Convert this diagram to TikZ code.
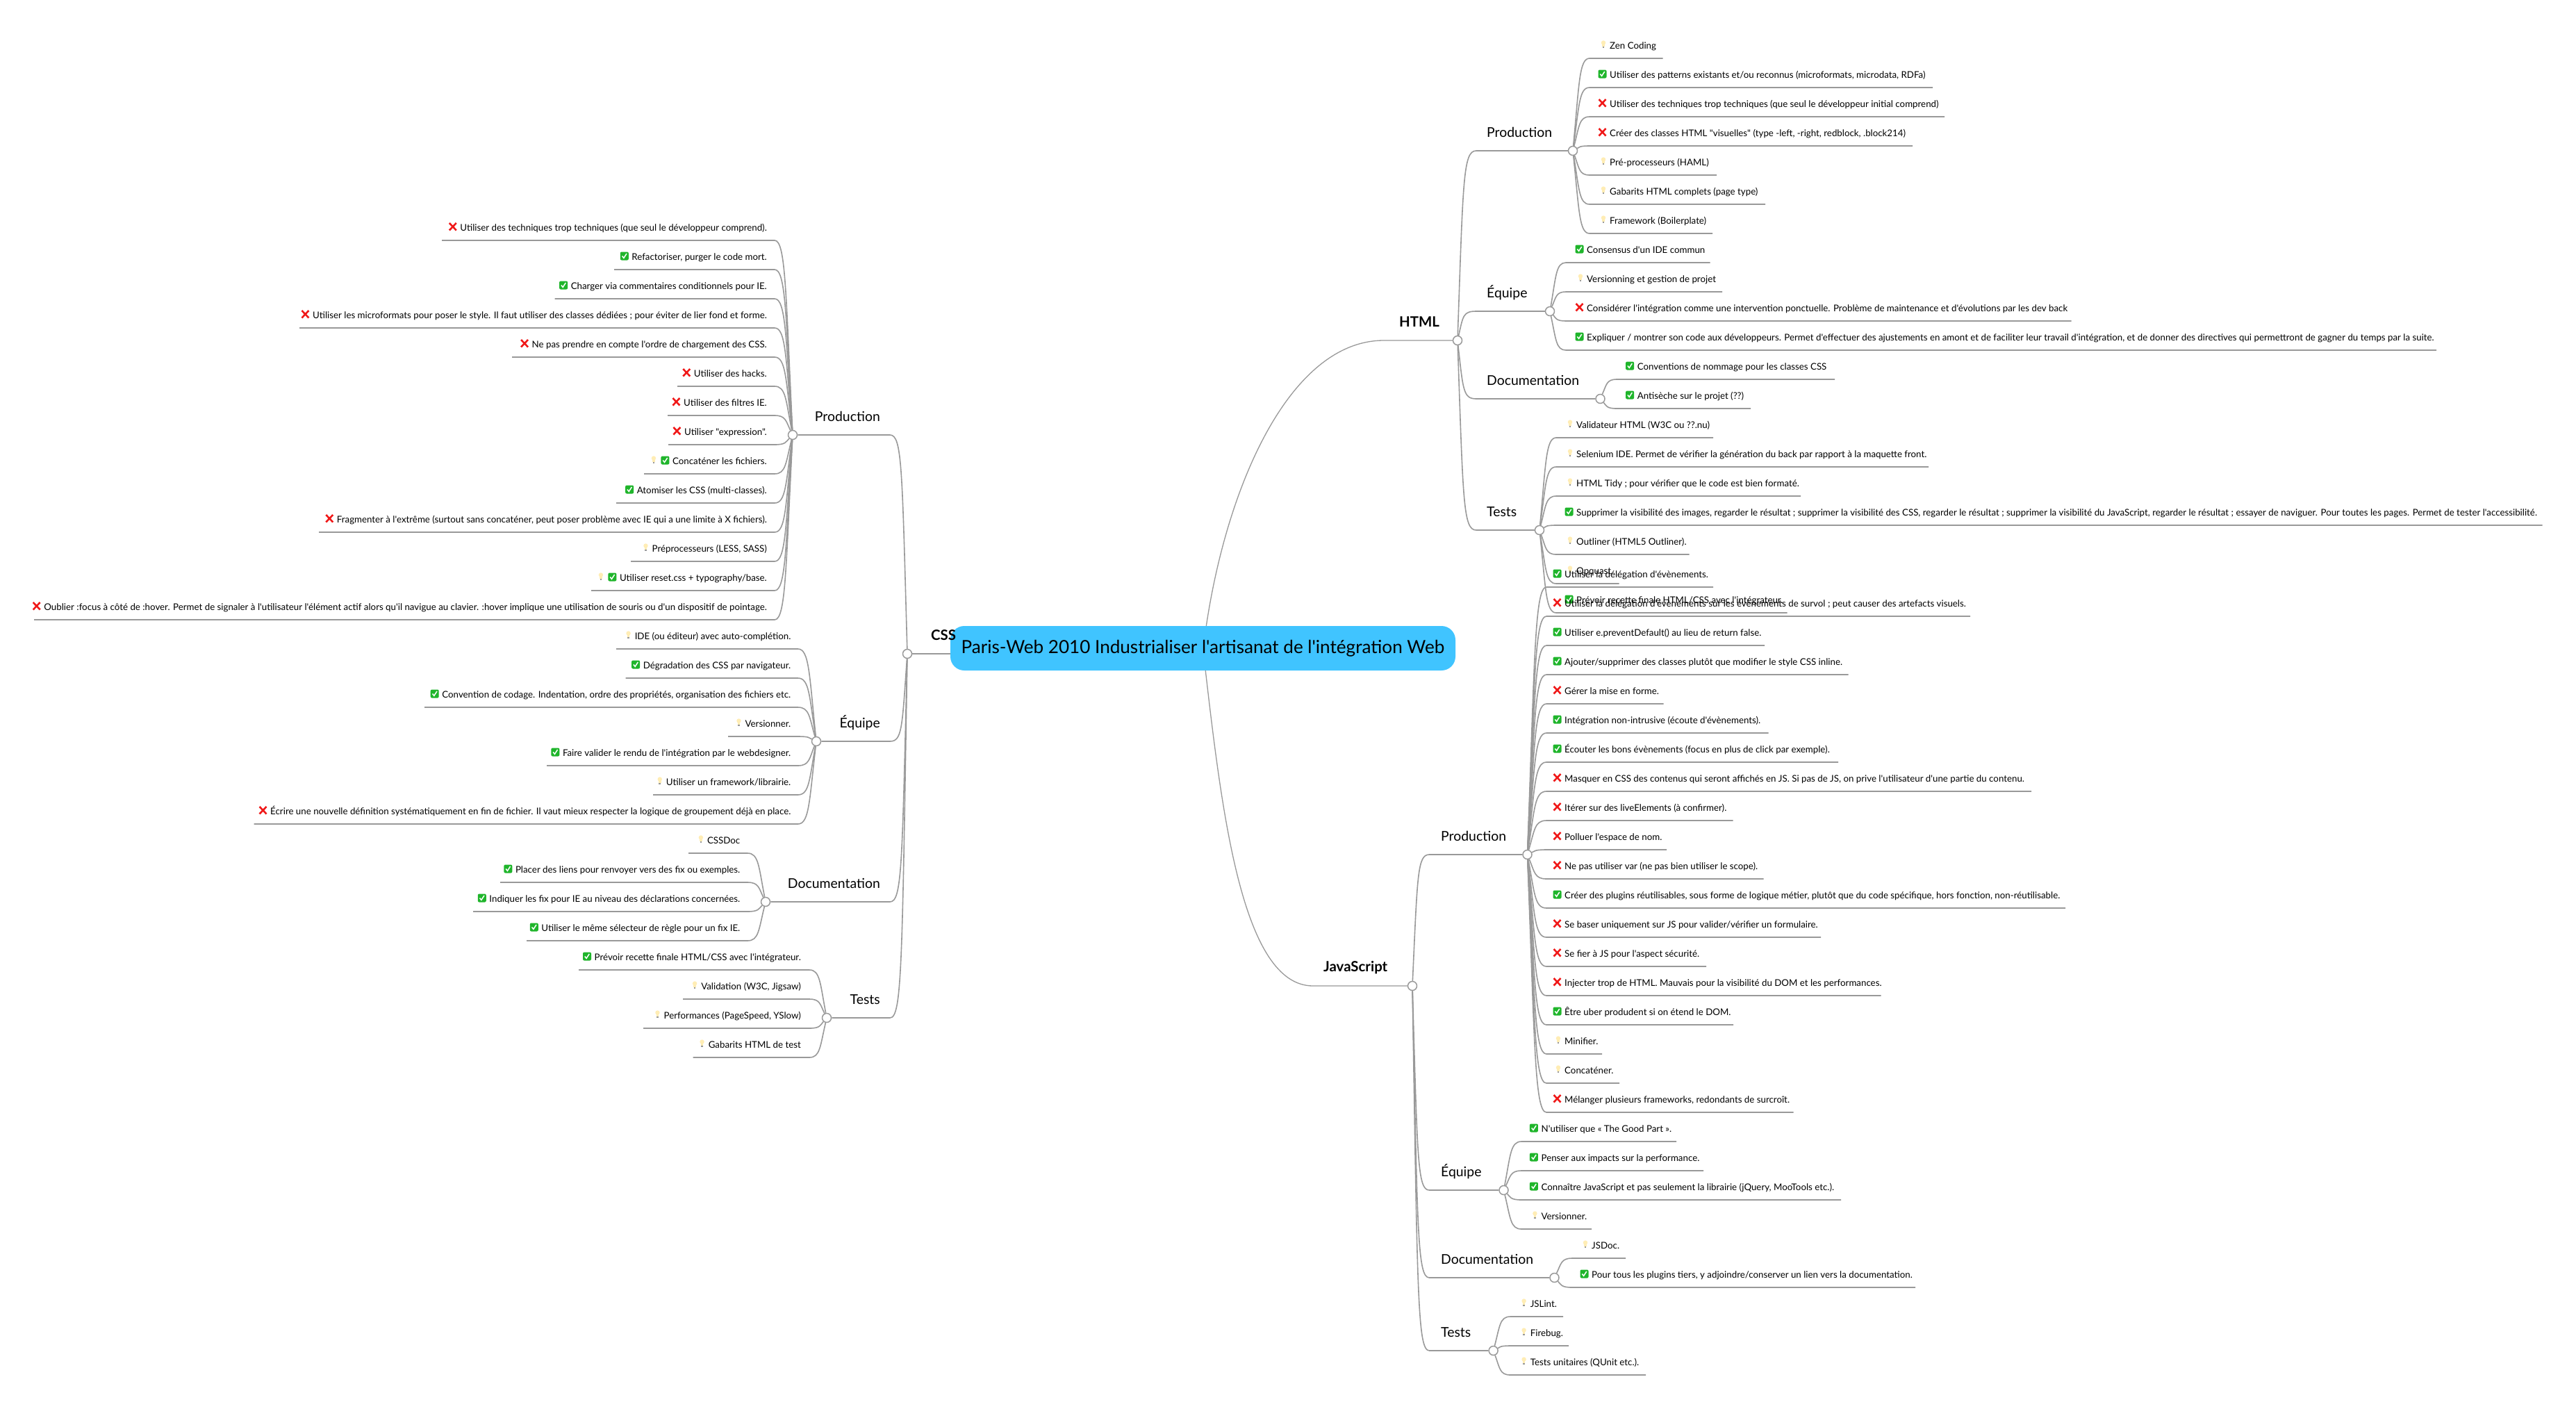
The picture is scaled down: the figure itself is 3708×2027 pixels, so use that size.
\documentclass[tikz,border=0pt]{standalone}
\usepackage{fontspec}
\usetikzlibrary{calc}
\newfontfamily\uif{Lato}
\definecolor{lnkc}{HTML}{999999}
\definecolor{rootc}{HTML}{40C4FF}
\definecolor{chkc}{HTML}{1FB52B}
\definecolor{redc}{HTML}{F01818}
\definecolor{blbc}{HTML}{FFEDB5}
\newcount\kidn
\tikzset{
  x=1pt,y=-1pt,
  lnk/.style={draw=lnkc,line width=1.6pt},
  biglnk/.style={draw=lnkc,line width=1.3pt},
  junc/.style={circle,draw=lnkc,fill=white,line width=1.5pt,minimum size=13pt,inner sep=0pt},
  kidt/.style={inner sep=0pt,font=\uif\fontsize{13.3}{16}\selectfont,text=black},
  brancht/.style={inner sep=0pt,anchor=base west,font=\uif\fontsize{19.4}{24}\selectfont,text=black},
  topt/.style={inner sep=0pt,anchor=base west,font=\uif\bfseries\fontsize{20.4}{24}\selectfont,text=black},
  rootn/.style={fill=rootc,rounded corners=20pt,minimum width=727pt,minimum height=64pt,inner sep=0pt,font=\uif\fontsize{26.1}{32}\selectfont,text=black},
  pics/cbox/.style={code={
    \fill[chkc,rounded corners=2pt] (#1-6,-11.5) rectangle (#1+6,0.5);
    \draw[white,line width=1.5pt] (#1-3.2,-5.5) -- (#1-0.9,-2.6) -- (#1+3.2,-9);
  }},
  pics/ccc/.style={code={\pic {cbox=-10.5};}},
  pics/xxx/.style={code={
    \draw[redc,line width=2.6pt] (-15.5,-11) -- (-5.5,-0.5) (-5.5,-11) -- (-15.5,-0.5);
  }},
  pics/lamp/.style={code={
    \fill[blbc] (#1,-8.5) circle (3.2pt);
    \fill[blbc] (#1-1.8,-7) rectangle (#1+1.8,-3.5);
    \fill[lnkc] (#1-1.3,-3.2) rectangle (#1+1.3,-1.2);
  }},
  pics/bbb/.style={code={\pic {lamp=-9};}},
  pics/bcc/.style={code={\pic {lamp=-27}; \pic {cbox=-10.5};}},
}
% J, curve end x, y, underline end x, text x, icon pic, text
\newcommand\kidR[7]{%
  \global\advance\kidn 1
  \coordinate (a\the\kidn) at (#2,#3);
  \coordinate (b\the\kidn) at (#4,#3);
  \coordinate (p\the\kidn) at ($(#1)!.38!(a\the\kidn)$);
  \coordinate (q\the\kidn) at ($(#1)!.72!(a\the\kidn)$);
  \draw[lnk] (#1) .. controls (p\the\kidn |- q\the\kidn) and (p\the\kidn |- a\the\kidn) .. (a\the\kidn) -- (b\the\kidn);
  \node[kidt,anchor=base west] (t\the\kidn) at (#5,#3-14) {#7};
  \pic at (t\the\kidn.base west) {#6};
}
\newcommand\kidL[7]{%
  \global\advance\kidn 1
  \coordinate (a\the\kidn) at (#2,#3);
  \coordinate (b\the\kidn) at (#4,#3);
  \coordinate (p\the\kidn) at ($(#1)!.38!(a\the\kidn)$);
  \coordinate (q\the\kidn) at ($(#1)!.72!(a\the\kidn)$);
  \draw[lnk] (#1) .. controls (p\the\kidn |- q\the\kidn) and (p\the\kidn |- a\the\kidn) .. (a\the\kidn) -- (b\the\kidn);
  \node[kidt,anchor=base east] (t\the\kidn) at (#5,#3-14) {#7};
  \pic at (t\the\kidn.base west) {#6};
}
% parent J, bend x, own J
\newcommand\branch[3]{%
  \global\advance\kidn 1
  \coordinate (a\the\kidn) at (#2 |- #3);
  \coordinate (p\the\kidn) at ($(#1)!.3!(a\the\kidn)$);
  \coordinate (q\the\kidn) at ($(#1)!.85!(a\the\kidn)$);
  \draw[lnk] (#1) .. controls (p\the\kidn |- q\the\kidn) and (p\the\kidn |- a\the\kidn) .. (a\the\kidn) -- (#3);
}
\begin{document}
\begin{tikzpicture}
\useasboundingbox (0,0) rectangle (3708,2027);
\fill[white] (0,0) rectangle (3708,2027);
% junctions
\node[rootn] (root) at (1731.5,933) {Paris-Web 2010 Industrialiser l'artisanat de l'intégration Web};
\node[junc] (jC) at (1306,941) {};
\node[junc] (jH) at (2098,490) {};
\node[junc] (jJ) at (2033,1419) {};
\node[junc] (jHP) at (2264,217) {};
\node[junc] (jHE) at (2231,448) {};
\node[junc] (jHD) at (2303.5,574) {};
\node[junc] (jHT) at (2216,763) {};
\node[junc] (jJP) at (2198.5,1230) {};
\node[junc] (jJE) at (2164.5,1713) {};
\node[junc] (jJD) at (2237.5,1839) {};
\node[junc] (jJT) at (2149.6,1944) {};
\node[junc] (jCP) at (1141,626) {};
\node[junc] (jCE) at (1175,1067) {};
\node[junc] (jCD) at (1102,1298) {};
\node[junc] (jCT) at (1190,1465) {};
\coordinate (bR) at (2125,0);
\coordinate (bJ) at (2057.5,0);
\coordinate (bL) at (1281,0);
% root connectors
\coordinate (hH) at (1992,490);
\coordinate (hJ) at (1890,1419);
\draw[biglnk] (root) .. controls (1768,690) and (1860,490) .. (hH) -- (jH);
\draw[biglnk] (root) .. controls (1760,1180) and (1790,1419) .. (hJ) -- (jJ);
\draw[lnk] (jC) -- (jC -| root.west);
% branches
\branch{jH}{bR}{jHP}\branch{jH}{bR}{jHE}\branch{jH}{bR}{jHD}\branch{jH}{bR}{jHT}
\branch{jJ}{bJ}{jJP}\branch{jJ}{bJ}{jJE}\branch{jJ}{bJ}{jJD}\branch{jJ}{bJ}{jJT}
\branch{jC}{bL}{jCP}\branch{jC}{bL}{jCE}\branch{jC}{bL}{jCD}\branch{jC}{bL}{jCT}
% labels
\node[topt] (lH) at (2014,470) {HTML};
\node[topt] (lJ) at (1905,1398) {JavaScript};
\node[topt] (lC) at (1340,921) {CSS};
\node[brancht] (l1) at (2140,197) {Production};
\node[brancht] (l2) at (2140,428) {Équipe};
\node[brancht] (l3) at (2140,554) {Documentation};
\node[brancht] (l4) at (2140,743) {Tests};
\node[brancht] (l5) at (2074,1210) {Production};
\node[brancht] (l6) at (2074,1693) {Équipe};
\node[brancht] (l7) at (2074,1819) {Documentation};
\node[brancht] (l8) at (2074,1924) {Tests};
\node[brancht,anchor=base east] (l9) at (1267,606) {Production};
\node[brancht,anchor=base east] (l10) at (1267,1047) {Équipe};
\node[brancht,anchor=base east] (l11) at (1267,1278) {Documentation};
\node[brancht,anchor=base east] (l12) at (1267,1445) {Tests};
% HTML Production
\kidR{jHP}{2288}{84}{2393.5}{2317}{bbb}{Zen Coding}
\kidR{jHP}{2288}{126}{2782}{2317}{ccc}{Utiliser des patterns existants et/ou reconnus (microformats, microdata, RDFa)}
\kidR{jHP}{2288}{168}{2799}{2317}{xxx}{Utiliser des techniques trop techniques (que seul le développeur initial comprend)}
\kidR{jHP}{2288}{210}{2753}{2317}{xxx}{Créer des classes HTML "visuelles" (type -left, -right, redblock, .block214)}
\kidR{jHP}{2288}{252}{2471}{2317}{bbb}{Pré-processeurs (HAML)}
\kidR{jHP}{2288}{294}{2541}{2317}{bbb}{Gabarits HTML complets (page type)}
\kidR{jHP}{2288}{336}{2465}{2317}{bbb}{Framework (Boilerplate)}
% HTML Equipe
\kidR{jHE}{2254}{378}{2461.5}{2284}{ccc}{Consensus d'un IDE commun}
\kidR{jHE}{2254}{420}{2479}{2284}{bbb}{Versionning et gestion de projet}
\kidR{jHE}{2254}{462}{2981.5}{2284}{xxx}{Considérer l'intégration comme une intervention ponctuelle. Problème de maintenance et d'évolutions par les dev back}
\kidR{jHE}{2254}{504}{3507}{2284}{ccc}{Expliquer / montrer son code aux développeurs. Permet d'effectuer des ajustements en amont et de faciliter leur travail d'intégration, et de donner des directives qui permettront de gagner du temps par la suite.}
% HTML Documentation
\kidR{jHD}{2327}{546}{2641}{2356.6}{ccc}{Conventions de nommage pour les classes CSS}
\kidR{jHD}{2327}{588}{2520}{2356.6}{ccc}{Antisèche sur le projet (??)}
% HTML Tests
\kidR{jHT}{2240}{630}{2466}{2269}{bbb}{Validateur HTML (W3C ou ??.nu)}
\kidR{jHT}{2240}{672}{2776}{2269}{bbb}{Selenium IDE. Permet de vérifier la génération du back par rapport à la maquette front.}
\kidR{jHT}{2240}{714}{2592}{2269}{bbb}{HTML Tidy ; pour vérifier que le code est bien formaté.}
\kidR{jHT}{2240}{756}{3659.5}{2269}{ccc}{Supprimer la visibilité des images, regarder le résultat ; supprimer la visibilité des CSS, regarder le résultat ; supprimer la visibilité du JavaScript, regarder le résultat ; essayer de naviguer. Pour toutes les pages. Permet de tester l'accessibilité.}
\kidR{jHT}{2240}{798}{2431.5}{2269}{bbb}{Outliner (HTML5 Outliner).}
\kidR{jHT}{2240}{840}{2330.7}{2269}{bbb}{Opquast.}
\kidR{jHT}{2240}{882}{2572.7}{2269}{ccc}{Prévoir recette finale HTML/CSS avec l'intégrateur.}
% JS Production
\kidR{jJP}{2226}{845}{2466}{2252}{ccc}{Utiliser la délégation d'évènements.}
\kidR{jJP}{2226}{887}{2836}{2252}{xxx}{Utiliser la délégation d'évènements sur les évènements de survol ; peut causer des artefacts visuels.}
\kidR{jJP}{2226}{929}{2540}{2252}{ccc}{Utiliser e.preventDefault() au lieu de return false.}
\kidR{jJP}{2226}{971}{2660.5}{2252}{ccc}{Ajouter/supprimer des classes plutôt que modifier le style CSS inline.}
\kidR{jJP}{2226}{1013}{2394.7}{2252}{xxx}{Gérer la mise en forme.}
\kidR{jJP}{2226}{1055}{2545.7}{2252}{ccc}{Intégration non-intrusive (écoute d'évènements).}
\kidR{jJP}{2226}{1097}{2646}{2252}{ccc}{Écouter les bons évènements (focus en plus de click par exemple).}
\kidR{jJP}{2226}{1139}{2924}{2252}{xxx}{Masquer en CSS des contenus qui seront affichés en JS. Si pas de JS, on prive l'utilisateur d'une partie du contenu.}
\kidR{jJP}{2226}{1181}{2494.7}{2252}{xxx}{Itérer sur des liveElements (à confirmer).}
\kidR{jJP}{2226}{1223}{2399}{2252}{xxx}{Polluer l'espace de nom.}
\kidR{jJP}{2226}{1265}{2538.5}{2252}{xxx}{Ne pas utiliser var (ne pas bien utiliser le scope).}
\kidR{jJP}{2226}{1307}{2973}{2252}{ccc}{Créer des plugins réutilisables, sous forme de logique métier, plutôt que du code spécifique, hors fonction, non-réutilisable.}
\kidR{jJP}{2226}{1349}{2621}{2252}{xxx}{Se baser uniquement sur JS pour valider/vérifier un formulaire.}
\kidR{jJP}{2226}{1391}{2456}{2252}{xxx}{Se fier à JS pour l'aspect sécurité.}
\kidR{jJP}{2226}{1433}{2707.6}{2252}{xxx}{Injecter trop de HTML. Mauvais pour la visibilité du DOM et les performances.}
\kidR{jJP}{2226}{1475}{2495}{2252}{ccc}{Être uber produdent si on étend le DOM.}
\kidR{jJP}{2226}{1517}{2306}{2252}{bbb}{Minifier.}
\kidR{jJP}{2226}{1559}{2331}{2252}{bbb}{Concaténer.}
\kidR{jJP}{2226}{1601}{2581.6}{2252}{xxx}{Mélanger plusieurs frameworks, redondants de surcroît.}
% JS Equipe
\kidR{jJE}{2190}{1643}{2413}{2218.4}{ccc}{N'utiliser que « The Good Part ».}
\kidR{jJE}{2190}{1685}{2452}{2218.4}{ccc}{Penser aux impacts sur la performance.}
\kidR{jJE}{2190}{1727}{2650}{2218.4}{ccc}{Connaître JavaScript et pas seulement la librairie (jQuery, MooTools etc.).}
\kidR{jJE}{2190}{1769}{2291}{2218.4}{bbb}{Versionner.}
% JS Documentation
\kidR{jJD}{2263}{1811}{2340}{2291}{bbb}{JSDoc.}
\kidR{jJD}{2263}{1853}{2757}{2291}{ccc}{Pour tous les plugins tiers, y adjoindre/conserver un lien vers la documentation.}
% JS Tests
\kidR{jJT}{2174}{1895}{2250}{2202.6}{bbb}{JSLint.}
\kidR{jJT}{2174}{1937}{2258}{2202.6}{bbb}{Firebug.}
\kidR{jJT}{2174}{1979}{2369}{2202.6}{bbb}{Tests unitaires (QUnit etc.).}
% CSS Production
\kidL{jCP}{1115}{346}{636}{1104}{xxx}{Utiliser des techniques trop techniques (que seul le développeur comprend).}
\kidL{jCP}{1115}{388}{884}{1104}{ccc}{Refactoriser, purger le code mort.}
\kidL{jCP}{1115}{430}{798.5}{1104}{ccc}{Charger via commentaires conditionnels pour IE.}
\kidL{jCP}{1115}{472}{431}{1104}{xxx}{Utiliser les microformats pour poser le style. Il faut utiliser des classes dédiées ; pour éviter de lier fond et forme.}
\kidL{jCP}{1115}{514}{737}{1104}{xxx}{Ne pas prendre en compte l'ordre de chargement des CSS.}
\kidL{jCP}{1115}{556}{975}{1104}{xxx}{Utiliser des hacks.}
\kidL{jCP}{1115}{598}{961}{1104}{xxx}{Utiliser des filtres IE.}
\kidL{jCP}{1115}{640}{962}{1104}{xxx}{Utiliser "expression".}
\kidL{jCP}{1115}{682}{927}{1104}{bcc}{Concaténer les fichiers.}
\kidL{jCP}{1115}{724}{887}{1104}{ccc}{Atomiser les CSS (multi-classes).}
\kidL{jCP}{1115}{766}{459}{1104}{xxx}{Fragmenter à l'extrême (surtout sans concaténer, peut poser problème avec IE qui a une limite à X fichiers).}
\kidL{jCP}{1115}{808}{908}{1104}{bbb}{Préprocesseurs (LESS, SASS)}
\kidL{jCP}{1115}{850}{851}{1104}{bcc}{Utiliser reset.css + typography/base.}
\kidL{jCP}{1115}{892}{49}{1104}{xxx}{Oublier :focus à côté de :hover. Permet de signaler à l'utilisateur l'élément actif alors qu'il navigue au clavier. :hover implique une utilisation de souris ou d'un dispositif de pointage.}
% CSS Equipe
\kidL{jCE}{1148.5}{934}{887}{1138.5}{bbb}{IDE (ou éditeur) avec auto-complétion.}
\kidL{jCE}{1148.5}{976}{900.5}{1138.5}{ccc}{Dégradation des CSS par navigateur.}
\kidL{jCE}{1148.5}{1018}{611}{1138.5}{ccc}{Convention de codage. Indentation, ordre des propriétés, organisation des fichiers etc.}
\kidL{jCE}{1148.5}{1060}{1048}{1138.5}{bbb}{Versionner.}
\kidL{jCE}{1148.5}{1102}{787}{1138.5}{ccc}{Faire valider le rendu de l'intégration par le webdesigner.}
\kidL{jCE}{1148.5}{1144}{940}{1138.5}{bbb}{Utiliser un framework/librairie.}
\kidL{jCE}{1148.5}{1186}{365.7}{1138.5}{xxx}{Écrire une nouvelle définition systématiquement en fin de fichier. Il vaut mieux respecter la logique de groupement déjà en place.}
% CSS Documentation
\kidL{jCD}{1076}{1228}{991}{1065.5}{bbb}{CSSDoc}
\kidL{jCD}{1076}{1270}{720}{1065.5}{ccc}{Placer des liens pour renvoyer vers des fix ou exemples.}
\kidL{jCD}{1076}{1312}{681}{1065.5}{ccc}{Indiquer les fix pour IE au niveau des déclarations concernées.}
\kidL{jCD}{1076}{1354}{758}{1065.5}{ccc}{Utiliser le même sélecteur de règle pour un fix IE.}
% CSS Tests
\kidL{jCT}{1165}{1396}{833}{1153}{ccc}{Prévoir recette finale HTML/CSS avec l'intégrateur.}
\kidL{jCT}{1165}{1438}{983}{1153}{bbb}{Validation (W3C, Jigsaw)}
\kidL{jCT}{1165}{1480}{926}{1153}{bbb}{Performances (PageSpeed, YSlow)}
\kidL{jCT}{1165}{1522}{997.5}{1153}{bbb}{Gabarits HTML de test}
\end{tikzpicture}
\end{document}
